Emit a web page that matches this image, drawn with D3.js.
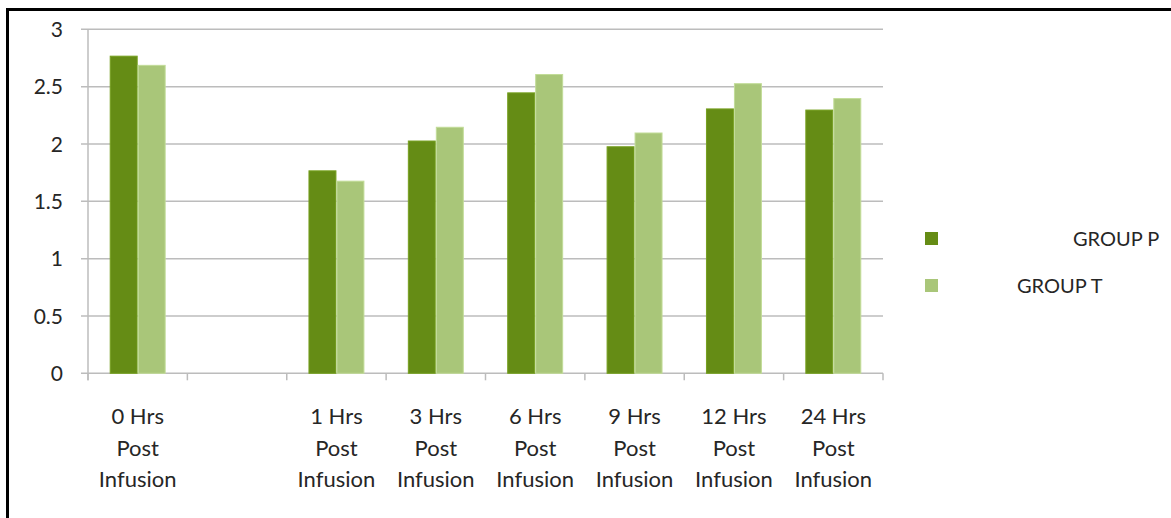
<!DOCTYPE html>
<html>
<head>
<meta charset="utf-8">
<script src="https://cdn.jsdelivr.net/npm/d3@7"></script>
<style>
  body { margin: 0; background: #fff; }
  svg text { font-family: Lato, "Open Sans", sans-serif; fill: #262626; }
</style>
</head>
<body>
<div id="chart-area"></div>
<script>
// values
var categories = ["0 Hrs", "-", "1 Hrs", "3 Hrs", "6 Hrs", "9 Hrs", "12 Hrs", "24 Hrs"];
var labelLines = ["Post", "Infusion"];
var groupP = [2.77, null, 1.77, 2.03, 2.45, 1.98, 2.31, 2.30];
var groupT = [2.69, null, 1.68, 2.15, 2.61, 2.10, 2.53, 2.40];
var seriesNames = ["GROUP P", "GROUP T"];
var yTicks = [0, 0.5, 1, 1.5, 2, 2.5, 3];

var width = 1171, height = 518;
var plot = {left: 88, right: 883, top: 29.3, bottom: 373.3};
var colors = ["#658c15", "#a9c679"];
var edge = ["#76a01f", "#c2dc98"];

var svg = d3.select("#chart-area")
            .append("svg")
            .attr("width", width)
            .attr("height", height);

// frame (only top and left edges show in the picture)
svg.append("path")
   .attr("d", "M7.5," + height + " V9.5 H" + width)
   .attr("fill", "none")
   .attr("stroke", "#000")
   .attr("stroke-width", 3);

var x0 = d3.scaleBand()
           .domain(categories)
           .range([plot.left, plot.right])
           .paddingInner(0.437)
           .paddingOuter(0.2185);

var x1 = d3.scaleBand()
           .domain(seriesNames)
           .range([0, x0.bandwidth()]);

var y = d3.scaleLinear()
          .domain([0, 3])
          .range([plot.bottom, plot.top]);

// gridlines + left ticks
var grid = svg.append("g");
yTicks.forEach(function(v) {
  grid.append("line")
      .attr("x1", plot.left - 7)
      .attr("x2", plot.right)
      .attr("y1", y(v))
      .attr("y2", y(v))
      .attr("stroke", "#bcbcbc")
      .attr("stroke-width", 1.5);
  svg.append("text")
     .attr("x", 63)
     .attr("y", y(v))
     .attr("dy", "0.36em")
     .attr("text-anchor", "end")
     .attr("font-size", "21px")
     .text(v);
});

// y axis line
svg.append("line")
   .attr("x1", plot.left).attr("x2", plot.left)
   .attr("y1", plot.top).attr("y2", plot.bottom + 7)
   .attr("stroke", "#bcbcbc")
   .attr("stroke-width", 1.5);

// x ticks at category boundaries
var step = x0.step();
d3.range(categories.length + 1).forEach(function(i) {
  var xx = plot.left + i * step;
  svg.append("line")
     .attr("x1", xx).attr("x2", xx)
     .attr("y1", plot.bottom).attr("y2", plot.bottom + 7)
     .attr("stroke", "#bcbcbc")
     .attr("stroke-width", 1.5);
});

// bars
var rows = categories.map(function(c, i) {
  return {cat: c, vals: [groupP[i], groupT[i]]};
});

var groups = svg.selectAll(".cat")
                .data(rows)
                .enter().append("g")
                .attr("class", "cat")
                .attr("transform", function(d) { return "translate(" + x0(d.cat) + ",0)"; });

groups.selectAll("rect")
      .data(function(d) {
        return d.vals.map(function(v, j) { return {name: seriesNames[j], v: v, j: j}; })
                     .filter(function(e) { return e.v != null; });
      })
      .enter().append("rect")
      .attr("x", function(d) { return x1(d.name) + 0.5; })
      .attr("y", function(d) { return y(d.v) + 0.5; })
      .attr("width", x1.bandwidth() - 1)
      .attr("height", function(d) { return plot.bottom - y(d.v) - 0.5; })
      .attr("fill", function(d) { return colors[d.j]; })
      .attr("stroke", function(d) { return edge[d.j]; })
      .attr("stroke-width", 1);

// category labels
groups.each(function(d, i) {
  if (d.cat === "-") return;
  var t = d3.select(this).append("text")
            .attr("text-anchor", "middle")
            .attr("font-size", "22px");
  [d.cat].concat(labelLines).forEach(function(line, k) {
    t.append("tspan")
     .attr("x", x0.bandwidth() / 2)
     .attr("y", 424 + k * 31.5)
     .text(line);
  });
});

// legend
var legendPos = [{sx: 925, sy: 232, tx: 1073}, {sx: 925, sy: 279, tx: 1017}];
seriesNames.forEach(function(name, i) {
  svg.append("rect")
     .attr("x", legendPos[i].sx)
     .attr("y", legendPos[i].sy)
     .attr("width", 13)
     .attr("height", 13)
     .attr("fill", colors[i]);
  svg.append("text")
     .attr("x", legendPos[i].tx)
     .attr("y", legendPos[i].sy + 6.5)
     .attr("dy", "0.36em")
     .attr("font-size", "20px")
     .text(name);
});
</script>
</body>
</html>
